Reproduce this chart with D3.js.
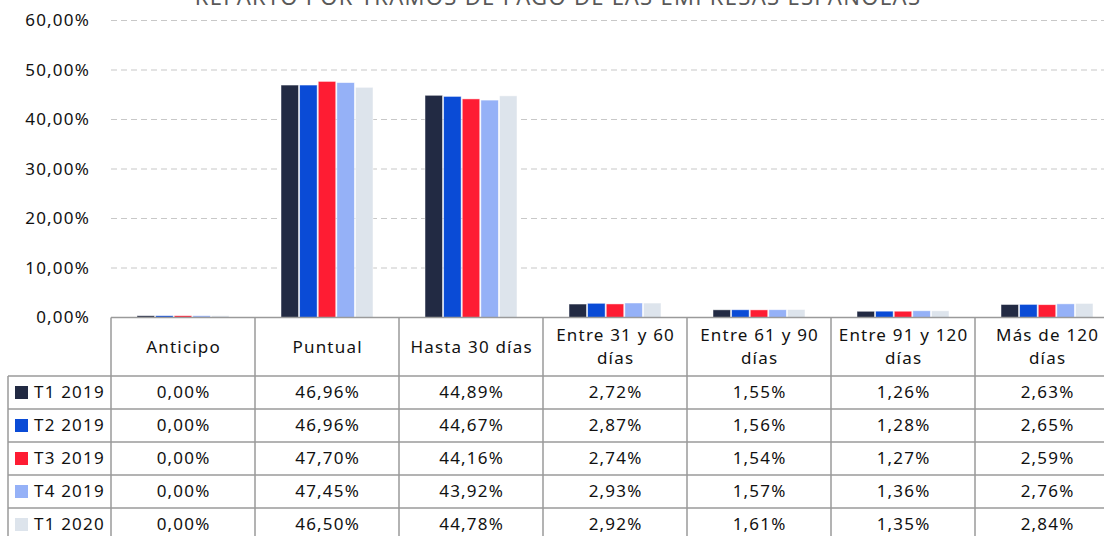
<!DOCTYPE html>
<html lang="es">
<head>
<meta charset="UTF-8">
<title>Reparto por tramos de pago</title>
<script src="https://d3js.org/d3.v7.min.js"></script>
<style>
  body { margin: 0; background: #fff; overflow: hidden; }
  svg { font-family: "Noto Sans", sans-serif; }
  .lbl { font-size: 17px; letter-spacing: 1.2px; fill: #111; }
</style>
</head>
<body>
<script>
  // datos
  const categories = ["Anticipo", "Puntual", "Hasta 30 días", "Entre 31 y 60 días", "Entre 61 y 90 días", "Entre 91 y 120 días", "Más de 120 días"];
  const headerLines = [["Anticipo"], ["Puntual"], ["Hasta 30 días"], ["Entre 31 y 60", "días"], ["Entre 61 y 90", "días"], ["Entre 91 y 120", "días"], ["Más de 120", "días"]];
  const series = ["T1 2019", "T2 2019", "T3 2019", "T4 2019", "T1 2020"];
  const colors = ["#222a43", "#0a4bd6", "#fe1c33", "#95b1f7", "#dde4ec"];
  const t1_2019 = [0.00, 46.96, 44.89, 2.72, 1.55, 1.26, 2.63];
  const t2_2019 = [0.00, 46.96, 44.67, 2.87, 1.56, 1.28, 2.65];
  const t3_2019 = [0.00, 47.70, 44.16, 2.74, 1.54, 1.27, 2.59];
  const t4_2019 = [0.00, 47.45, 43.92, 2.93, 1.57, 1.36, 2.76];
  const t1_2020 = [0.00, 46.50, 44.78, 2.92, 1.61, 1.35, 2.84];
  const yTicks = [0, 10, 20, 30, 40, 50, 60];
  const values = [t1_2019, t2_2019, t3_2019, t4_2019, t1_2020];

  const W = 1104, H = 536;
  const left = 111, colW = 144;
  const right = left + colW * categories.length;
  const plotTop = 20.5, base = 317.5;
  const headerH = 58.5, rowH = 33;

  const fmt = v => v.toFixed(2).replace(".", ",") + "%";

  const svg = d3.select("body").append("svg").attr("width", W).attr("height", H);

  const y = d3.scaleLinear().domain([0, 60]).range([base, plotTop]);
  const x = d3.scaleBand().domain(categories).range([left, right]);
  const xs = d3.scaleBand().domain(series).range([0, 92]).paddingInner(0.06);
  const groupOff = (colW - 92) / 2;

  // titulo (cortado arriba, como en el original)
  svg.append("text")
    .attr("x", 558).attr("y", 5)
    .attr("text-anchor", "middle")
    .attr("fill", "#595959")
    .attr("font-size", 22)
    .attr("letter-spacing", 1.3)
    .text("REPARTO POR TRAMOS DE PAGO DE LAS EMPRESAS ESPAÑOLAS");

  // lineas de cuadricula
  svg.append("g").selectAll("line")
    .data(yTicks.filter(d => d > 0))
    .join("line")
    .attr("x1", left).attr("x2", W)
    .attr("y1", d => y(d)).attr("y2", d => y(d))
    .attr("stroke", "#c8c8c8").attr("stroke-width", 1.2)
    .attr("stroke-dasharray", "6,4");

  // eje y
  svg.append("g").selectAll("text")
    .data(yTicks)
    .join("text")
    .attr("class", "lbl")
    .attr("x", 90).attr("y", d => y(d))
    .attr("dy", "0.35em")
    .attr("text-anchor", "end")
    .text(d => fmt(d));

  // barras
  series.forEach((s, i) => {
    svg.append("g").selectAll("rect")
      .data(values[i])
      .join("rect")
      .attr("x", (d, j) => x(categories[j]) + groupOff + xs(s))
      .attr("width", xs.bandwidth())
      .attr("y", d => base - Math.max(1.8, base - y(d)))
      .attr("height", d => Math.max(1.8, base - y(d)))
      .attr("fill", colors[i])
      .attr("stroke", "#ffffff").attr("stroke-opacity", 0.6).attr("stroke-width", 0.8);
  });

  // tabla
  const table = svg.append("g");
  const lineColor = "#9a9a9a";
  const tableBottom = base + headerH + rowH * series.length;

  table.append("line")
    .attr("x1", left).attr("x2", right).attr("y1", base).attr("y2", base)
    .attr("stroke", lineColor).attr("stroke-width", 1.5);
  d3.range(series.length + 1).forEach(r => {
    const yy = base + headerH + r * rowH;
    table.append("line")
      .attr("x1", 8).attr("x2", right).attr("y1", yy).attr("y2", yy)
      .attr("stroke", lineColor).attr("stroke-width", 1.5);
  });
  table.append("line")
    .attr("x1", 8).attr("x2", 8).attr("y1", base + headerH).attr("y2", tableBottom)
    .attr("stroke", lineColor).attr("stroke-width", 1.5);
  d3.range(categories.length + 1).forEach(c => {
    const xx = left + c * colW;
    table.append("line")
      .attr("x1", xx).attr("x2", xx).attr("y1", base).attr("y2", tableBottom)
      .attr("stroke", lineColor).attr("stroke-width", 1.5);
  });

  // cabecera
  categories.forEach((cat, j) => {
    const lines = headerLines[j];
    const cy = base + headerH / 2;
    lines.forEach((ln, k) => {
      table.append("text")
        .attr("class", "lbl")
        .attr("x", x(cat) + colW / 2 + 0.6)
        .attr("y", cy + (k - (lines.length - 1) / 2) * 23)
        .attr("dy", "0.35em")
        .attr("text-anchor", "middle")
        .text(ln);
    });
  });

  // filas
  series.forEach((s, i) => {
    const cy = base + headerH + i * rowH + rowH / 2;
    table.append("rect")
      .attr("x", 15).attr("y", cy - 6.5).attr("width", 13).attr("height", 13)
      .attr("fill", colors[i]);
    table.append("text")
      .attr("class", "lbl")
      .attr("x", 34).attr("y", cy).attr("dy", "0.35em")
      .text(s);
    values[i].forEach((v, j) => {
      table.append("text")
        .attr("class", "lbl")
        .attr("x", x(categories[j]) + colW / 2 + 0.6).attr("y", cy).attr("dy", "0.35em")
        .attr("text-anchor", "middle")
        .text(fmt(v));
    });
  });
</script>
</body>
</html>
